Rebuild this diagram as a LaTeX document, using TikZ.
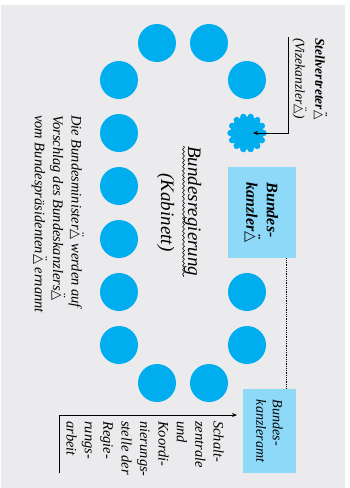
\documentclass[tikz,border=0pt]{standalone}
\usepackage{fontspec}
\setmainfont{Liberation Serif}
\newfontfamily\djv{DejaVu Sans}
\usetikzlibrary{decorations.pathmorphing,arrows.meta}
\definecolor{bg}{HTML}{EBEBED}
\definecolor{seatc}{HTML}{00AEEF}
\definecolor{boxc}{HTML}{8ED8F8}
\newcommand\gs{\ooalign{\scalebox{0.9}{\djv\char"25B3}\cr\hidewidth\raisebox{0.45ex}{\upshape\char"00A8}\hidewidth\cr}}
\begin{document}
\begin{tikzpicture}[x=1pt,y=-1pt,
  seat/.style={circle,fill=seatc,minimum size=38pt,inner sep=0pt},
  txt/.style={rotate=-90,inner sep=0pt,font=\itshape\fontsize{14.5}{18.4}\selectfont,align=left},
  box/.style={rotate=-90,fill=boxc,inner sep=0pt,align=left},
  conn/.style={line width=0.7pt,-{Stealth[length=5pt,width=4pt]}}]
\fill[white] (0,0) rectangle (349,488);
\fill[bg] (1,5) rectangle (345,488);
\useasboundingbox (0,0) rectangle (349,488);
% seats
\node[seat] (s1) at (157,43) {};
\node[seat] (s2) at (209,43) {};
\node[seat] (s3) at (247,80) {};
\node[seat] (s4) at (119,80) {};
\node[seat] (s5) at (119,133) {};
\node[seat] (s6) at (119,186) {};
\node[seat] (s7) at (119,239) {};
\node[seat] (s8) at (119,292) {};
\node[seat] (s9) at (119,345) {};
\node[seat] (s10) at (157,383) {};
\node[seat] (s11) at (209,383) {};
\node[seat] (s12) at (247,345) {};
\node[seat] (s13) at (247,292) {};
% vice chancellor seat (scalloped)
\node[circle,minimum size=34pt,inner sep=0pt] (vk) at (247,133) {};
\fill[seatc] (vk.center) circle (16.5pt);
\foreach \a in {0,25.7,...,359} \fill[seatc] (vk.center) ++(\a:16.5pt) circle (3.2pt);
% boxes
\node[box,minimum width=91pt,minimum height=68pt,font=\bfseries\itshape\fontsize{16}{20.5}\selectfont] (bk) at (262,212.5) {Bundes-\\kanzler\gs};
\node[box,minimum width=84pt,minimum height=53pt,font=\itshape\fontsize{14}{16.5}\selectfont] (bka) at (269.5,431) {Bundes-\\kanzleramt};
\coordinate (dx) at (286,0);
\draw[line width=0.8pt,dash pattern=on 0.9pt off 0.9pt] (bk.east -| dx) -- (bka.west -| dx);
% texts
\node[txt,anchor=north west,font=\bfseries\itshape\fontsize{13.5}{20}\selectfont] (sv) at (325,38) {Stellvertreter\gs};
\node[txt,anchor=north west,font=\itshape\fontsize{13.5}{20}\selectfont] (vz) at (305,38) {(Vizekanzler\gs)};
\node[txt,anchor=base west,font=\itshape\fontsize{19}{22}\selectfont] (br) at (188,146) {Bundesregierung};
\draw[decorate,decoration={snake,segment length=4.3pt,amplitude=0.9pt},line width=0.6pt] (br.base west) ++(-4.5pt,0) coordinate (w1) (w1) -- (w1 |- br.base east);
\node[txt,anchor=base,font=\itshape\fontsize{19}{22}\selectfont] (kab) at (161,212.5) {(Kabinett)};
\node[txt,anchor=north west] (bm) at (82,115) {Die Bundesminister\gs{} werden auf\\Vorschlag des Bundeskanzlers\gs\\vom Bundespräsidenten\gs{} ernannt};
\node[txt,anchor=north west] (sz) at (224,421) {Schalt-\\zentrale\\und\\Koordi-\\nierungs-\\stelle der\\Regie-\\rungs-\\arbeit};
% connectors
\coordinate (v0) at (288,37);
\draw[conn,shorten >=6pt] (v0) |- (vk.center);
\coordinate (b0) at (59,473);
\coordinate (b1) at (237,415);
\draw[conn] (b0) |- (b1);
\end{tikzpicture}
\end{document}
